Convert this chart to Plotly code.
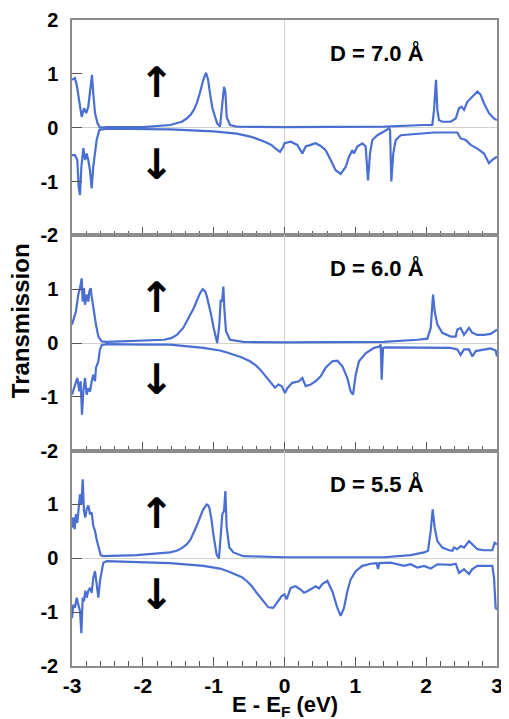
import plotly.graph_objects as go
from plotly.subplots import make_subplots

# ---------------- data ----------------
panel_labels = ["D = 7.0 Å", "D = 6.0 Å", "D = 5.5 Å"]

# D = 7.0 Å
p1_up_x = [-3.0, -2.958, -2.934, -2.897, -2.863, -2.83, -2.80, -2.77, -2.736, -2.718, -2.70, -2.675, -2.64, -2.605,
           -2.5, -2.0, -1.616, -1.45, -1.381, -1.32, -1.28, -1.24, -1.20, -1.16, -1.146, -1.108, -1.08, -1.052,
           -1.02, -0.981, -0.95, -0.91, -0.878, -0.854, -0.835, -0.816,
           -0.77, -0.675, 0.0, 1.405, 1.97, 2.087, 2.111, 2.139, 2.158, 2.181, 2.228, 2.346, 2.417, 2.464, 2.497,
           2.534, 2.581, 2.652, 2.723, 2.77, 2.817, 2.887, 2.958, 3.0]
p1_up_y = [0.89, 0.92, 0.80, 0.52, 0.20, 0.36, 0.27, 0.39, 0.76, 0.98, 0.64, 0.27, 0.08, 0.0,
           0.01, 0.01, 0.05, 0.11, 0.17, 0.25, 0.33, 0.45, 0.62, 0.85, 0.89, 1.02, 0.90, 0.64,
           0.38, 0.20, 0.08, 0.02, 0.45, 0.76, 0.67, 0.20,
           0.05, 0.02, 0.01, 0.02, 0.05, 0.05, 0.33, 0.89, 0.33, 0.14, 0.11, 0.11, 0.17, 0.36, 0.39,
           0.33, 0.48, 0.58, 0.67, 0.61, 0.45, 0.27, 0.17, 0.14]
p1_dn_x = [-3.0, -2.958, -2.925, -2.906, -2.887, -2.868, -2.84, -2.816, -2.793, -2.77, -2.746, -2.722, -2.70,
           -2.675, -2.652, -2.614, -2.5, -1.616, -1.0, -0.675, -0.468, -0.279, -0.186, -0.134, -0.063, -0.02,
           0.0, 0.087, 0.181, 0.252, 0.299, 0.37, 0.44, 0.511, 0.581, 0.652, 0.722, 0.793, 0.864, 0.911, 0.958,
           0.981, 1.028, 1.099, 1.146, 1.179, 1.207, 1.24, 1.311, 1.405, 1.476, 1.49, 1.508, 1.536, 1.57, 1.64,
           1.875, 2.111, 2.44, 2.487, 2.558, 2.629, 2.723, 2.817, 2.887, 2.934, 3.0]
p1_dn_y = [-0.51, -0.51, -0.60, -1.10, -1.25, -0.73, -0.38, -0.60, -0.48, -0.60, -0.79, -1.13, -0.73,
           -0.48, -0.23, -0.04, -0.02, -0.03, -0.07, -0.11, -0.17, -0.26, -0.32, -0.38, -0.45, -0.36,
           -0.29, -0.26, -0.32, -0.48, -0.35, -0.32, -0.29, -0.34, -0.42, -0.60, -0.79, -0.86, -0.73, -0.54, -0.42,
           -0.48, -0.35, -0.29, -0.35, -0.98, -0.48, -0.23, -0.14, -0.07, -0.01, -0.04, -1.0, -0.48, -0.23, -0.14,
           -0.11, -0.09, -0.09, -0.20, -0.23, -0.32, -0.39, -0.48, -0.66, -0.60, -0.54]

# D = 6.0 Å
p2_up_x = [-3.0, -2.972, -2.944, -2.911, -2.887, -2.863, -2.849, -2.831, -2.816, -2.793, -2.769, -2.755, -2.736,
           -2.722, -2.699, -2.661, -2.628, -2.581, -2.511, -2.0, -1.7, -1.6, -1.52, -1.43, -1.334, -1.28, -1.24,
           -1.19, -1.155, -1.12, -1.099, -1.07, -1.04, -1.0, -0.97, -0.95, -0.92, -0.901, -0.882, -0.863, -0.85,
           -0.826, -0.769, -0.581, 0.0,
           1.405, 1.875, 2.017, 2.064, 2.097, 2.12, 2.158, 2.228, 2.346, 2.417, 2.44, 2.487, 2.534, 2.605, 2.652,
           2.723, 2.817, 2.911, 2.958, 3.0]
p2_up_y = [0.34, 0.46, 0.59, 0.90, 1.02, 1.20, 0.77, 1.02, 0.71, 0.90, 0.77, 0.96, 1.02,
           0.86, 0.65, 0.34, 0.12, 0.03, 0.02, 0.04, 0.06, 0.09, 0.15, 0.28, 0.50, 0.65, 0.78,
           0.93, 1.0, 0.96, 0.88, 0.74, 0.55, 0.28, 0.10, 0.0, 0.34, 0.80, 0.77, 1.05, 0.65,
           0.22, 0.06, 0.02, 0.01,
           0.02, 0.06, 0.08, 0.28, 0.90, 0.59, 0.34, 0.19, 0.12, 0.12, 0.25, 0.28, 0.15, 0.28, 0.19,
           0.15, 0.15, 0.17, 0.22, 0.25]
p2_dn_x = [-3.0, -2.972, -2.944, -2.925, -2.896, -2.878, -2.859, -2.84, -2.816, -2.793, -2.769, -2.746, -2.722,
           -2.699, -2.675, -2.661, -2.628, -2.605, -2.581, -2.511, -2.0, -1.616, -1.146, -0.91, -0.8, -0.675, -0.6,
           -0.487, -0.4, -0.346, -0.3, -0.205, -0.134, -0.087, -0.04, 0.007, 0.04, 0.11, 0.205, 0.252, 0.299, 0.37,
           0.44, 0.511, 0.581, 0.675, 0.746, 0.817, 0.887, 0.934, 0.967, 1.005, 1.052, 1.146, 1.264, 1.334, 1.358,
           1.372, 1.391, 1.428, 1.875, 2.346, 2.44, 2.487, 2.534, 2.605, 2.652, 2.699, 2.911, 2.981, 3.0]
p2_dn_y = [-0.96, -0.84, -0.71, -0.65, -0.90, -0.71, -1.33, -0.90, -0.65, -0.96, -0.84, -0.90, -0.71,
           -0.59, -0.71, -0.46, -0.34, -0.12, -0.04, -0.02, -0.03, -0.03, -0.09, -0.14, -0.18, -0.23, -0.27,
           -0.34, -0.42, -0.49, -0.56, -0.71, -0.83, -0.77, -0.80, -0.93, -0.84, -0.74, -0.71, -0.65, -0.80, -0.77,
           -0.71, -0.62, -0.46, -0.34, -0.33, -0.43, -0.65, -0.90, -0.96, -0.59, -0.34, -0.19, -0.09, -0.07, -0.03,
           -0.68, -0.09, -0.08, -0.09, -0.09, -0.12, -0.22, -0.12, -0.12, -0.25, -0.15, -0.10, -0.14, -0.25]

# D = 5.5 Å
p3_up_x = [-3.0, -2.981, -2.962, -2.944, -2.925, -2.906, -2.887, -2.868, -2.849, -2.831, -2.812, -2.793, -2.769,
           -2.746, -2.722, -2.699, -2.675, -2.652, -2.628, -2.595, -2.558, -2.087, -1.616, -1.522, -1.45, -1.381,
           -1.33, -1.287, -1.24, -1.193, -1.15, -1.099, -1.075, -1.061, -1.03, -1.005, -0.98, -0.958, -0.925,
           -0.901, -0.878, -0.854, -0.835, -0.816, -0.779, -0.722,
           -0.581, 0.0, 1.405, 1.781, 1.97, 2.026, 2.064, 2.092, 2.12, 2.158, 2.228, 2.323, 2.37, 2.393, 2.44,
           2.487, 2.534, 2.605, 2.652, 2.723, 2.817, 2.934, 2.967, 3.0]
p3_up_y = [0.57, 0.76, 0.54, 0.82, 0.66, 1.0, 1.19, 1.0, 1.47, 0.88, 0.76, 0.91, 0.98,
           0.82, 0.85, 0.60, 0.51, 0.35, 0.20, 0.06, 0.04, 0.06, 0.11, 0.14, 0.19, 0.26,
           0.34, 0.45, 0.60, 0.76, 0.90, 1.0, 0.98, 0.94, 0.72, 0.45, 0.22, 0.07, 0.0,
           0.39, 0.82, 0.88, 1.25, 0.57, 0.20, 0.11,
           0.04, 0.02, 0.02, 0.06, 0.11, 0.14, 0.51, 0.91, 0.57, 0.32, 0.20, 0.15, 0.14, 0.20, 0.17,
           0.23, 0.20, 0.32, 0.26, 0.17, 0.15, 0.15, 0.29, 0.26]
p3_dn_x = [-3.0, -2.981, -2.958, -2.934, -2.911, -2.887, -2.868, -2.849, -2.831, -2.812, -2.793, -2.769, -2.746,
           -2.722, -2.699, -2.675, -2.652, -2.628, -2.605, -2.581, -2.558, -2.511, -2.087, -1.616, -1.146, -0.91,
           -0.8, -0.675, -0.6, -0.534, -0.46, -0.393, -0.299, -0.228, -0.158, -0.11, -0.04, 0.0, 0.031, 0.087,
           0.158, 0.228, 0.275, 0.322, 0.393, 0.44, 0.487, 0.534, 0.605, 0.675, 0.746, 0.793, 0.84, 0.887, 0.934,
           1.005, 1.099, 1.217, 1.302, 1.32, 1.339, 1.499, 1.687, 1.781, 1.875, 1.97, 2.064, 2.158, 2.346, 2.417,
           2.464, 2.534, 2.605, 2.652, 2.723, 2.934, 2.958, 2.981, 3.0]
p3_dn_y = [-1.11, -0.86, -0.92, -0.73, -0.86, -0.98, -1.39, -0.73, -0.80, -0.60, -0.73, -0.60, -0.55,
           -0.64, -0.36, -0.24, -0.48, -0.73, -0.42, -0.24, -0.08, -0.05, -0.07, -0.09, -0.14, -0.19,
           -0.24, -0.30, -0.35, -0.42, -0.52, -0.64, -0.80, -0.91, -0.92, -0.83, -0.70, -0.67, -0.76, -0.55,
           -0.52, -0.58, -0.64, -0.61, -0.55, -0.52, -0.56, -0.48, -0.42, -0.61, -0.92, -1.07, -0.92, -0.61, -0.39,
           -0.24, -0.14, -0.10, -0.09, -0.20, -0.09, -0.08, -0.14, -0.11, -0.17, -0.14, -0.19, -0.11, -0.12, -0.10,
           -0.27, -0.20, -0.29, -0.20, -0.14, -0.14, -0.36, -0.92, -0.95]

panels = [
    (p1_up_x, p1_up_y, p1_dn_x, p1_dn_y),
    (p2_up_x, p2_up_y, p2_dn_x, p2_dn_y),
    (p3_up_x, p3_up_y, p3_dn_x, p3_dn_y),
]

x_ticks = [-3, -2, -1, 0, 1, 2, 3]
x_ticktext = ["-3", "-2", "-1", "0", "1", "2", "3"]
y_ticks_top = [2, 1, 0, -1, -2]
y_ticks_other = [1, 0, -1, -2]

# ---------------- figure ----------------
LINE = "#4a6fd2"
FRAME = "#8c8c8c"
FONT = "Liberation Sans, Arial, sans-serif"

fig = make_subplots(rows=3, cols=1, shared_xaxes=True, vertical_spacing=0)

for i, (ux, uy, dx, dy) in enumerate(panels, start=1):
    fig.add_trace(go.Scatter(x=ux, y=uy, mode="lines", line=dict(color=LINE, width=2.2),
                             showlegend=False, hoverinfo="skip"), row=i, col=1)
    fig.add_trace(go.Scatter(x=dx, y=dy, mode="lines", line=dict(color=LINE, width=2.2),
                             showlegend=False, hoverinfo="skip"), row=i, col=1)
    yt = y_ticks_top if i == 1 else y_ticks_other
    fig.update_yaxes(range=[-2, 2], tickvals=yt, ticktext=[str(v) for v in yt],
                     ticks="inside", ticklen=10, tickcolor="#555", tickwidth=1,
                     showline=True, linecolor=FRAME, linewidth=1.5, mirror=True,
                     showgrid=False, zeroline=True, zerolinecolor="#d0d0d0", zerolinewidth=1,
                     ticklabelstandoff=8,
                     tickfont=dict(family=FONT, size=20, color="black", weight="bold"),
                     row=i, col=1)
    fig.update_xaxes(range=[-3, 3], tickvals=x_ticks, ticktext=x_ticktext,
                     ticks="inside", ticklen=9, tickcolor="#555", tickwidth=1,
                     minor=dict(dtick=0.2, ticks="inside", ticklen=5, tickcolor="#555", tickwidth=1),
                     showline=True, linecolor=FRAME, linewidth=1.5, mirror=True,
                     showgrid=False, zeroline=True, zerolinecolor="#d0d0d0", zerolinewidth=1,
                     showticklabels=(i == 3),
                     tickfont=dict(family=FONT, size=21, color="black", weight="bold"),
                     row=i, col=1)
    yref = "y" if i == 1 else f"y{i}"
    xref = "x" if i == 1 else f"x{i}"
    fig.add_annotation(x=1.306, y=1.39, xref=xref, yref=yref, text=panel_labels[i - 1],
                       showarrow=False, font=dict(family=FONT, size=22, color="black", weight="bold"))
    fig.add_annotation(x=-1.814, y=0.84, xref=xref, yref=yref, text="↑", showarrow=False,
                       yanchor="middle",
                       font=dict(family="DejaVu Sans", size=42, color="black", weight="bold"))
    fig.add_annotation(x=-1.814, y=-0.68, xref=xref, yref=yref, text="↓", showarrow=False,
                       yanchor="middle",
                       font=dict(family="DejaVu Sans", size=42, color="black", weight="bold"))

fig.add_annotation(x=-0.122, y=0.534, xref="paper", yref="paper", text="Transmission",
                   textangle=-90, showarrow=False, xanchor="center", yanchor="middle",
                   font=dict(family=FONT, size=24, color="black", weight="bold"))
fig.add_annotation(x=0.5, y=-0.062, xref="paper", yref="paper", text="E - E<sub>F</sub> (eV)",
                   showarrow=False, xanchor="center", yanchor="middle",
                   font=dict(family=FONT, size=22, color="black", weight="bold"))

# the page body adds an 8px offset, so the figure is sized/margined to compensate
fig.update_layout(width=501, height=711,
                  margin=dict(l=64, r=12, t=12, b=53, autoexpand=False),
                  paper_bgcolor="white", plot_bgcolor="white")

fig.write_html("out.html")
